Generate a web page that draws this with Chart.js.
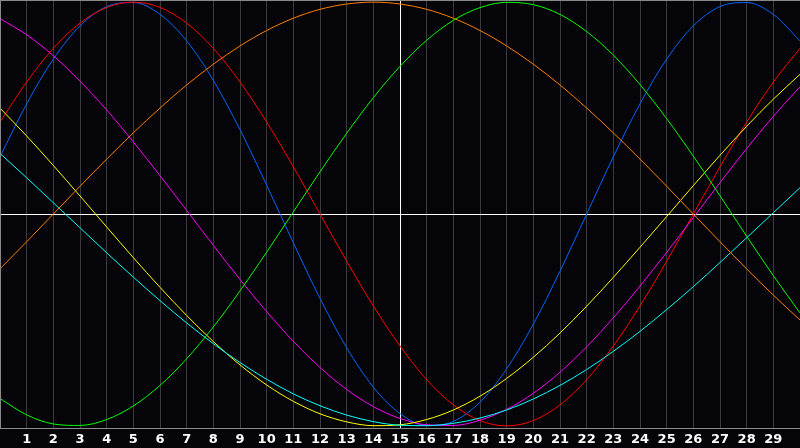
<!DOCTYPE html>
<html>
<head>
<meta charset="utf-8">
<script src="https://cdn.jsdelivr.net/npm/chart.js@4/dist/chart.umd.min.js"></script>
<style>
html,body{margin:0;padding:0;background:#050408;}
canvas{display:block;}
</style>
</head>
<body>
<canvas id="c" width="800" height="448"></canvas>
<script>
const days = [0,1,2,3,4,5,6,7,8,9,10,11,12,13,14,15,16,17,18,19,20,21,22,23,24,25,26,27,28,29,30];
const tickLabels = ['1','2','3','4','5','6','7','8','9','10','11','12','13','14','15','16','17','18','19','20','21','22','23','24','25','26','27','28','29'];

const red     = [0.434,0.623,0.782,0.901,0.975,1.000,0.975,0.901,0.782,0.623,0.434,0.223,0.000,-0.223,-0.434,-0.623,-0.782,-0.901,-0.975,-1.000,-0.975,-0.901,-0.782,-0.623,-0.434,-0.223,0.000,0.223,0.434,0.623,0.782];
const blue    = [0.270,0.520,0.731,0.888,0.979,0.998,0.942,0.817,0.631,0.398,0.136,-0.136,-0.398,-0.631,-0.817,-0.942,-0.998,-0.979,-0.888,-0.731,-0.520,-0.270,0.000,0.270,0.520,0.731,0.888,0.979,0.998,0.942,0.817];
const green   = [-0.871,-0.948,-0.991,-0.998,-0.970,-0.906,-0.809,-0.683,-0.533,-0.363,-0.180,0.010,0.199,0.381,0.549,0.697,0.820,0.914,0.974,0.999,0.988,0.942,0.861,0.750,0.611,0.450,0.273,0.086,-0.105,-0.291,-0.467];
const orange  = [-0.259,-0.131,0.000,0.131,0.259,0.383,0.500,0.609,0.707,0.793,0.866,0.924,0.966,0.991,1.000,0.991,0.966,0.924,0.866,0.793,0.707,0.609,0.500,0.383,0.259,0.131,0.000,-0.131,-0.259,-0.383,-0.500];
const magenta = [0.922,0.846,0.747,0.627,0.491,0.340,0.181,0.017,-0.148,-0.309,-0.461,-0.601,-0.724,-0.828,-0.909,-0.965,-0.995,-0.998,-0.973,-0.922,-0.846,-0.747,-0.627,-0.490,-0.340,-0.181,-0.017,0.148,0.309,0.461,0.601];
const yellow  = [0.500,0.368,0.229,0.085,-0.061,-0.206,-0.346,-0.479,-0.602,-0.712,-0.807,-0.884,-0.943,-0.981,-0.999,-0.995,-0.970,-0.925,-0.860,-0.776,-0.676,-0.562,-0.435,-0.299,-0.157,-0.012,0.134,0.277,0.414,0.542,0.659];
const cyan    = [0.286,0.171,0.053,-0.065,-0.183,-0.298,-0.409,-0.514,-0.612,-0.701,-0.780,-0.849,-0.905,-0.949,-0.980,-0.997,-0.999,-0.988,-0.963,-0.925,-0.873,-0.809,-0.734,-0.648,-0.554,-0.451,-0.343,-0.229,-0.112,0.006,0.124];

const series = [
  {data: green,   color: '#00ff00'},
  {data: orange,  color: '#ff8000'},
  {data: cyan,    color: '#00ffff'},
  {data: yellow,  color: '#ffff00'},
  {data: magenta, color: '#ff00ff'},
  {data: red,     color: '#ff0000'},
  {data: blue,    color: '#0066ff'}
];

const bgPlugin = {
  id: 'bg',
  beforeDraw(chart) {
    const ctx = chart.ctx;
    ctx.save();
    ctx.fillStyle = '#050408';
    ctx.fillRect(0, 0, chart.width, chart.height);
    ctx.restore();
  },
  afterDraw(chart) {
    const a = chart.chartArea, ctx = chart.ctx;
    ctx.save();
    ctx.strokeStyle = '#8a8a8a';
    ctx.lineWidth = 1;
    ctx.beginPath();
    ctx.moveTo(a.left, a.top + 0.5);
    ctx.lineTo(a.right, a.top + 0.5);
    ctx.moveTo(a.left + 0.5, a.top);
    ctx.lineTo(a.left + 0.5, a.bottom);
    ctx.stroke();
    ctx.restore();
  }
};

new Chart(document.getElementById('c'), {
  type: 'line',
  data: {
    datasets: series.map(s => ({
      data: days.map((d, i) => ({x: d, y: s.data[i]})),
      borderColor: s.color,
      borderWidth: 1,
      pointRadius: 0,
      cubicInterpolationMode: 'monotone',
      fill: false
    }))
  },
  options: {
    responsive: false,
    animation: false,
    devicePixelRatio: 1,
    layout: {padding: 0},
    plugins: {legend: {display: false}, tooltip: {enabled: false}},
    scales: {
      x: {
        type: 'linear',
        min: 0, max: 30,
        afterFit: s => { s.height = 20; s.paddingLeft = 0; s.paddingRight = 0; },
        ticks: {
          stepSize: 1,
          autoSkip: false,
          maxRotation: 0,
          padding: 4,
          color: '#ffffff',
          font: {family: 'DejaVu Sans', size: 13, weight: 'bold'},
          callback: v => (v >= 1 && v <= 29) ? tickLabels[v - 1] : ''
        },
        grid: {
          drawTicks: false,
          color: c => (c.tick && c.tick.value === 15) ? '#ffffff' : '#3a3a3a',
          lineWidth: 1
        },
        border: {color: '#8a8a8a'}
      },
      y: {
        min: -1.01, max: 1.01,
        afterFit: s => { s.width = 0; },
        afterBuildTicks: scale => { scale.ticks = [{value: 0}]; },
        ticks: {display: false},
        grid: {drawTicks: false, color: '#ffffff', lineWidth: 1},
        border: {display: false}
      }
    }
  },
  plugins: [bgPlugin]
});
</script>
</body>
</html>
